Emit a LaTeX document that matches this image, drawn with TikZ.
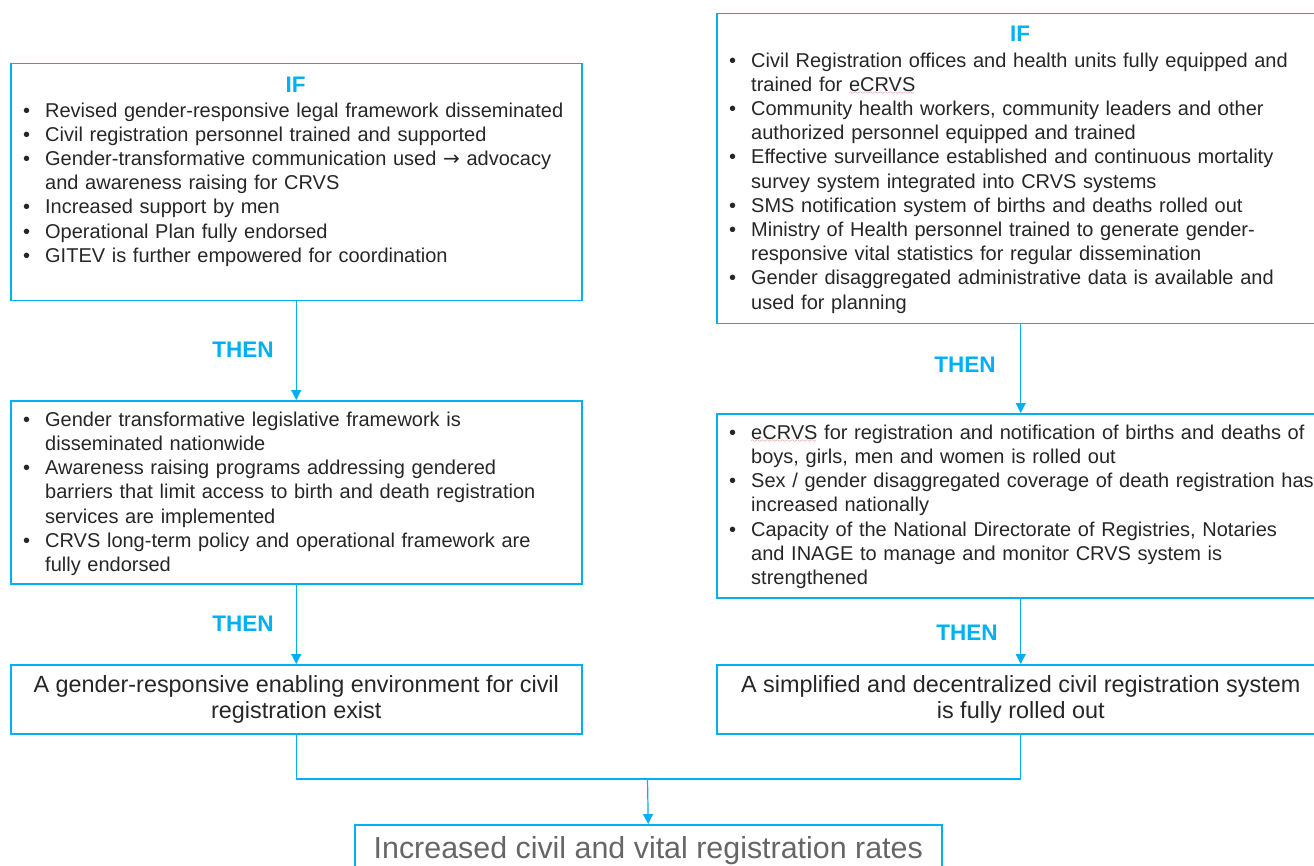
\documentclass[tikz,border=0pt]{standalone}
\usepackage{fontspec}
\setmainfont{Liberation Sans}
\newfontfamily\symfont{DejaVu Sans}
\usetikzlibrary{arrows.meta}

\definecolor{cyanline}{HTML}{00B0F0}
\definecolor{bodytext}{HTML}{262626}
\definecolor{goaltext}{HTML}{666666}
\definecolor{spellred}{HTML}{E0393E}

% bullet item with hanging indent
\newcommand\bitem[1]{\par\noindent\hangindent=22pt\hangafter=1\makebox[22pt][l]{\textbullet}#1\par}
% red wavy underline (spell-check mark)
\font\squigfont=lasy6
\newsavebox\spellbox
\newcommand\spell[1]{\sbox\spellbox{#1}\leavevmode
  \rlap{\textcolor{spellred}{\lower3.5pt\hbox to \wd\spellbox{\leaders\hbox{\squigfont\char58}\hfill}}}%
  \usebox\spellbox}

\begin{document}
\begin{tikzpicture}[x=1pt,y=-1pt,
  frame/.style={draw=cyanline, line width=1.5pt, inner sep=0pt, anchor=north west},
  bullets/.style={anchor=base west, inner sep=0pt, text width=620pt, align=left,
    text=bodytext, font=\fontsize{20}{24.2}\selectfont},
  cue/.style={text=cyanline, font=\fontsize{22.5}{27}\selectfont\bfseries, inner sep=0pt, anchor=base},
  result/.style={frame, align=center, text=bodytext, font=\fontsize{23.4}{26.5}\selectfont},
  link/.style={draw=cyanline, line width=1.2pt},
  arr/.style={link, -{Triangle[length=10pt,width=10pt]}}
]
\useasboundingbox (0,0) rectangle (1314,866);

% ---- left column ----
\node[frame, minimum width=571pt, minimum height=237pt] (ifL) at (10,63) {};
\node[cue] (ifLhead) at (295.5,93) {IF};
\node[bullets] (ifLtxt) at (23,93) {%
\bitem{Revised gender-responsive legal framework disseminated}
\bitem{Civil registration personnel trained and supported}
\bitem{Gender-transformative communication used {\symfont →} advocacy\newline and awareness raising for CRVS}
\bitem{Increased support by men}
\bitem{Operational Plan fully endorsed}
\bitem{GITEV is further empowered for coordination}};

\node[frame, minimum width=571pt, minimum height=183pt] (midL) at (10,400) {};
\node[bullets] (midLtxt) at (23,402) {%
\bitem{Gender transformative legislative framework is\newline disseminated nationwide}
\bitem{Awareness raising programs addressing gendered\newline barriers that limit access to birth and death registration\newline services are implemented}
\bitem{CRVS long-term policy and operational framework are\newline fully endorsed}};

\node[result, minimum width=571pt, minimum height=69pt] (resL) at (10,664)
  {A gender-responsive enabling environment for civil\\registration exist};

% ---- right column ----
\node[frame, minimum width=608pt, minimum height=310pt] (ifR) at (716,13) {};
\node[cue] (ifRhead) at (1020,42) {IF};
\node[bullets] (ifRtxt) at (729,43) {%
\bitem{Civil Registration offices and health units fully equipped and\newline trained for \spell{eCRVS}}
\bitem{Community health workers, community leaders and other\newline authorized personnel equipped and trained}
\bitem{Effective surveillance established and continuous mortality\newline survey system integrated into CRVS systems}
\bitem{SMS notification system of births and deaths rolled out}
\bitem{Ministry of Health personnel trained to generate gender-\newline responsive vital statistics for regular dissemination}
\bitem{Gender disaggregated administrative data is available and\newline used for planning}};

\node[frame, minimum width=608pt, minimum height=184pt] (midR) at (716,413) {};
\node[bullets] (midRtxt) at (729,415) {%
\bitem{\spell{eCRVS} for registration and notification of births and deaths of\newline boys, girls, men and women is rolled out}
\bitem{Sex / gender disaggregated coverage of death registration has\newline increased nationally}
\bitem{Capacity of the National Directorate of Registries, Notaries\newline and INAGE to manage and monitor CRVS system is\newline strengthened}};

\node[result, minimum width=608pt, minimum height=69pt] (resR) at (716,664)
  {A simplified and decentralized civil registration system\\is fully rolled out};

% ---- overall goal ----
\node[frame, minimum width=587pt, minimum height=52pt, text=goaltext,
  font=\fontsize{30.4}{34}\selectfont] (goal) at (354,824)
  {Increased civil and vital registration rates};

% ---- THEN cues ----
\node[cue] (thenL1) at (243,358) {THEN};
\node[cue] (thenL2) at (243,631) {THEN};
\node[cue] (thenR1) at (965,373) {THEN};
\node[cue] (thenR2) at (967,640) {THEN};

% ---- connectors ----
\draw[arr] (ifL.south) -- (midL.north);
\draw[arr] (midL.south) -- (resL.north);
\draw[arr] (ifR.south) -- (midR.north);
\draw[arr] (midR.south) -- (resR.north);
\coordinate (join) at (647.5,779);
\draw[link] (resL.south) |- (join) -| (resR.south);
\draw[arr] (join) -- (goal.north);
\end{tikzpicture}
\end{document}
